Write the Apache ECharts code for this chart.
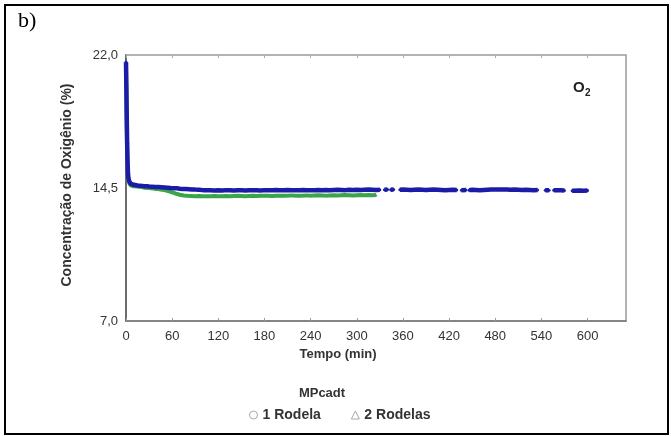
<!DOCTYPE html>
<html>
<head>
<meta charset="utf-8">
<script src="https://cdn.jsdelivr.net/npm/echarts@6/dist/echarts.min.js"></script>
<style>
html,body{margin:0;padding:0;background:#fff;}
#c{width:671px;height:436px;}
</style>
</head>
<body>
<div id="c"></div>
<script>
// ---- data ----
var xTicks = [0,60,120,180,240,300,360,420,480,540,600];
var yTicks = [7.0,14.5,22.0];
var seriesNames = ['1 Rodela','2 Rodelas'];

// 1 Rodela (blue) : time (min) and O2 (%) ; null = gap
var t1 = [0,0.5,1,1.5,2,2.5,3,4,5,6,7,8,10,12,15,18,21,24,27,30,34,38,42,46,50,54,58,62,66,70,74,78,82,86,90,95,100,105,110,115,120,125,130,135,140,145,150,155,160,165,170,175,180,185,190,195,200,205,210,215,220,225,230,235,240,245,250,255,260,265,270,275,280,285,290,295,300,305,310,315,320,325,330,333,336,340,342,344,348,352,356,360,365,370,375,380,385,390,395,400,405,410,415,420,425,430,433,436,442,444,446,450,455,460,465,470,475,480,485,490,495,500,505,510,515,520,525,530,535,540,545,550,553,556,560,565,570,575,580,590,595,600,605];
var v1 = [21.6,20.2,18.4,17.0,16.0,15.4,15.1,14.9,14.8,14.75,14.72,14.7,14.68,14.66,14.64,14.63,14.62,14.6,14.6,14.58,14.57,14.56,14.55,14.54,14.53,14.52,14.5,14.49,14.48,14.46,14.45,14.44,14.43,14.42,14.41,14.4,14.38,14.38,14.37,14.36,14.37,14.36,14.38,14.37,14.36,14.37,14.38,14.36,14.37,14.38,14.37,14.36,14.38,14.37,14.38,14.39,14.38,14.37,14.39,14.38,14.37,14.38,14.39,14.38,14.37,14.38,14.39,14.38,14.39,14.38,14.39,14.4,14.39,14.38,14.4,14.39,14.4,14.39,14.4,14.41,14.4,14.39,14.4,null,14.4,14.41,null,14.4,14.41,null,14.4,14.41,14.4,14.39,14.4,14.41,14.4,14.39,14.4,14.41,14.4,14.39,14.38,14.39,14.4,14.39,null,14.38,14.39,null,14.38,14.4,14.39,14.38,14.39,14.4,14.41,14.42,14.41,14.42,14.41,14.4,14.41,14.4,14.39,14.4,14.39,14.38,14.39,null,14.37,14.38,null,14.37,14.38,14.37,14.36,null,14.35,14.36,14.35,14.36];

// 2 Rodelas (green)
var t2 = [0,0.5,1,1.5,2,3,4,5,6,8,10,15,20,25,30,35,40,45,50,55,60,65,70,75,80,85,90,95,100,105,110,115,120,125,130,135,140,145,150,155,160,165,170,175,180,185,190,195,200,205,210,215,220,225,230,235,240,245,250,255,260,265,270,275,280,285,290,295,300,305,310,315,320,325];
var v2 = [21.3,19.5,17.8,16.6,15.7,15.0,14.8,14.7,14.65,14.62,14.6,14.58,14.55,14.52,14.5,14.47,14.45,14.42,14.38,14.32,14.25,14.18,14.12,14.08,14.06,14.05,14.04,14.05,14.04,14.03,14.04,14.05,14.04,14.03,14.05,14.04,14.05,14.06,14.05,14.04,14.05,14.06,14.05,14.06,14.07,14.06,14.05,14.06,14.07,14.06,14.07,14.08,14.07,14.06,14.07,14.08,14.07,14.08,14.09,14.08,14.07,14.08,14.09,14.08,14.09,14.1,14.09,14.08,14.09,14.1,14.09,14.1,14.09,14.1];

function pairs(t, v){ return t.map(function(x,i){ return [x, v[i]]; }); }

var chart = echarts.init(document.getElementById('c'), null, {renderer:'canvas'});
var font = 'Liberation Sans, Arial, sans-serif';
var txt = '#333';

chart.setOption({
  animation:false,
  backgroundColor:'#fff',
  grid:{left:126, top:55, right:45, bottom:115, show:true, borderColor:'#9a9a9a', borderWidth:1.5, backgroundColor:'transparent'},
  xAxis:[{
    type:'value', min:0, max:650, position:'bottom',
    axisLine:{show:true, onZero:false, lineStyle:{color:'#777', width:1.5}},
    axisTick:{show:true, inside:true, length:3, customValues:xTicks, lineStyle:{color:'#999'}},
    axisLabel:{customValues:xTicks, color:txt, fontFamily:font, fontSize:13, margin:9},
    splitLine:{show:false}
  },{
    type:'value', min:0, max:650, position:'top',
    axisLine:{show:false},
    axisTick:{show:true, inside:true, length:3, customValues:xTicks, lineStyle:{color:'#aaa'}},
    axisLabel:{show:false},
    splitLine:{show:false}
  }],
  yAxis:{
    type:'value', min:7, max:22,
    axisLine:{show:true, onZero:false, lineStyle:{color:'#555', width:1.5}},
    axisTick:{show:false},
    axisLabel:{customValues:yTicks, color:txt, fontFamily:font, fontSize:13, margin:8,
      formatter:function(v){ return v.toFixed(1).replace('.', ','); }},
    splitLine:{show:false}
  },
  legend:{
    left:244, top:403, itemGap:30, itemWidth:8, itemHeight:8,
    textStyle:{color:txt, fontFamily:font, fontSize:14, fontWeight:'bold'},
    data:[{name:seriesNames[0], icon:'circle', itemStyle:{color:'#fff', borderColor:'#aaa', borderWidth:1}},
          {name:seriesNames[1], icon:'triangle', itemStyle:{color:'#fff', borderColor:'#aaa', borderWidth:1}}]
  },
  graphic:[
    {type:'rect', shape:{x:5, y:5, width:663, height:429}, style:{fill:'none', stroke:'#000', lineWidth:2}, silent:true},
    {type:'text', left:18, top:10, style:{text:'b)', font:'22px Liberation Serif, Times New Roman, serif', fill:'#000'}},
    {type:'text', x:573, y:80, style:{text:'O', font:'bold 15px '+font, fill:'#222'}},
    {type:'text', x:585, y:88, style:{text:'2', font:'bold 10px '+font, fill:'#222'}},
    {type:'text', x:338, y:348, style:{text:'Tempo (min)', font:'bold 13px '+font, fill:txt, textAlign:'center'}},
    {type:'text', x:322, y:387, style:{text:'MPcadt', font:'bold 13px '+font, fill:txt, textAlign:'center'}},
    {type:'text', x:67, y:185, rotation:Math.PI/2, style:{text:'Concentração de Oxigênio (%)', font:'bold 14px '+font, fill:txt, textAlign:'center', textVerticalAlign:'middle'}}
  ],
  series:[
    {name:seriesNames[1], type:'line', data:pairs(t2,v2), symbol:'triangle', symbolSize:3, showSymbol:true,
      lineStyle:{color:'#3aa54a', width:4}, itemStyle:{color:'#3aa54a'}, connectNulls:false, z:2},
    {name:seriesNames[0], type:'line', data:pairs(t1,v1), symbol:'circle', symbolSize:3, showSymbol:true,
      lineStyle:{color:'#1c1ca8', width:4.5}, itemStyle:{color:'#1c1ca8'}, connectNulls:false, z:3}
  ]
});
</script>
</body>
</html>
